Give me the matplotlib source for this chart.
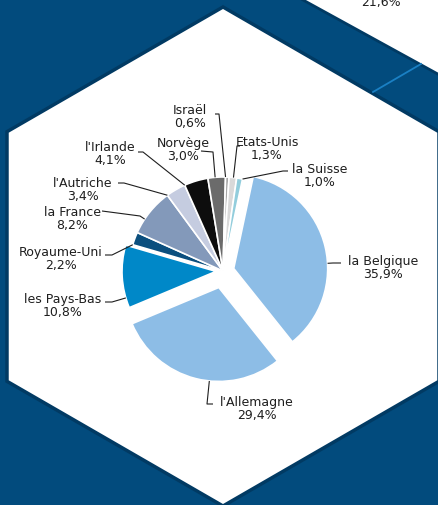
import matplotlib.pyplot as plt
from matplotlib.patches import Polygon, Rectangle
import numpy as np

# -------------------------
# Data
# -------------------------
countries = ['la Belgique', "l'Allemagne", 'les Pays-Bas', 'Royaume-Uni', 'la France',
             "l'Autriche", "l'Irlande", 'Norvège', 'Israël', 'Etats-Unis', 'la Suisse']
shares = [35.9, 29.4, 10.8, 2.2, 8.2, 3.4, 4.1, 3.0, 0.6, 1.3, 1.0]
cut_label = '21,6%'   # value of a neighbouring chart, cut off at the top edge

colors = ['#8dbde6', '#8dbde6', '#0088c8', '#0b4f7e', '#8399ba',
          '#c5cce0', '#0d0d0d', '#6b6b6b', '#a6a6a6', '#d9d9d9', '#92cddc']
explode = [11, 17, 7, 0, 0, 0, 0, 0, 0, 0, 0]   # pixels

# label placement in image pixels: text centre, elbow, end of leader
layout = {
    'la Belgique': (383, 268, (333, 264), (341, 264)),
    "l'Allemagne": (257, 409, (207, 405), (213, 405)),
    'les Pays-Bas': (63, 306, (112, 303), (105, 303)),
    'Royaume-Uni': (61, 259, (112, 256), (105, 256)),
    'la France': (72, 219, (140, 217), (102, 212)),
    "l'Autriche": (83, 190, (124, 184), (118, 184)),
    "l'Irlande": (110, 154, (143, 153), (138, 153)),
    'Norvège': (183, 150, (213, 153), (201, 152)),
    'Israël': (190, 117, (219, 115), (215, 115)),
    'Etats-Unis': (267, 149, (237, 147), (240, 147)),
    'la Suisse': (320, 176, (283, 172), (288, 172)),
}

W, H = 438, 506
bg = '#024b7d'
txt_color = '#1e1e1e'


def P(x, y):
    # image pixel coords -> axes coords (y up)
    return (x, H - y)


fig = plt.figure(figsize=(W / 100, H / 100), dpi=100)
ax = fig.add_axes([0, 0, 1, 1])

# -------------------------
# Background: dark blue with white hexagon
# -------------------------
ax.add_patch(Rectangle((0, 0), W, H, color=bg, zorder=0))
hexagon = [P(223, 8), P(439, 132.7), P(439, 382.3), P(223, 507), P(7, 382.3), P(7, 132.7)]
ax.add_patch(Polygon(hexagon, closed=True, facecolor='white', edgecolor='#013a63',
                     linewidth=2.5, zorder=1))
ax.add_patch(Polygon([P(298, -2), P(440, -2), P(440, 76)], closed=True,
                     facecolor='white', edgecolor='#013a63', linewidth=2, zorder=1))
ax.plot(*zip(P(373, 93), P(421, 65)), color='#1a80c4', lw=1.3, zorder=1)

ax.text(*P(381, 6), cut_label, ha='center', va='baseline', fontsize=9,
        color=txt_color, zorder=3)

# -------------------------
# Pie
# -------------------------
cx, cy = P(223, 272)
wedges, _ = ax.pie(shares, colors=colors, explode=explode, startangle=78,
                   counterclock=False, center=(cx, cy), radius=94,
                   wedgeprops={'edgecolor': 'white', 'linewidth': 1.2})
for w in wedges:
    w.set_zorder(2)

for w, name, val in zip(wedges, countries, shares):
    tx, ty, elbow, end = layout[name]
    ex, ey = P(*elbow)
    wx, wy = w.center
    ang = np.degrees(np.arctan2(ey - wy, ex - wx))
    t1, t2 = w.theta1, w.theta2
    ang = (ang - t1) % 360 + t1
    if ang > t2:
        ang = t2 if (ang - t2) < (t1 + 360 - ang) else t1
    ax_, ay_ = wx + w.r * np.cos(np.radians(ang)), wy + w.r * np.sin(np.radians(ang))
    px, py = zip((ax_, ay_), (ex, ey), P(*end))
    ax.plot(px, py, color=txt_color, lw=0.8, zorder=3, solid_capstyle='butt')
    pct = f"{val:.1f}".replace('.', ',') + '%'
    ax.text(*P(tx, ty), f"{name}\n{pct}", ha='center', va='center', fontsize=9,
            linespacing=1.05, color=txt_color, zorder=3)

ax.set_xlim(0, W)
ax.set_ylim(0, H)
ax.set_aspect('auto')
ax.axis('off')

plt.savefig('out.png', dpi=100)
